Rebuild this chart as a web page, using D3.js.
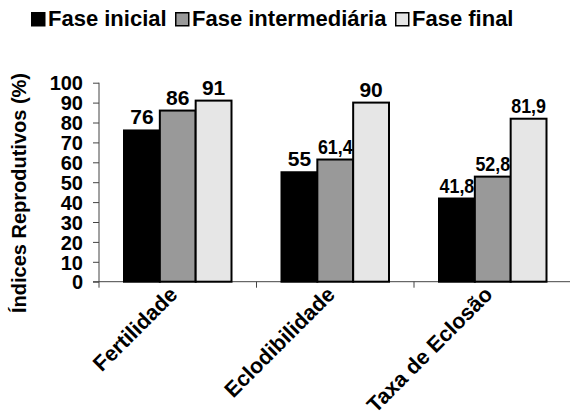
<!DOCTYPE html>
<html>
<head>
<meta charset="utf-8">
<script src="https://cdn.jsdelivr.net/npm/d3@7"></script>
<style>
body { margin: 0; background: #fff; }
text { font-family: Arial, 'Liberation Sans', sans-serif; font-weight: bold; fill: #000; }
</style>
</head>
<body>
<svg id="chart" width="570" height="415"></svg>
<script>
let categories = ['Fertilidade', 'Eclodibilidade', 'Taxa de Eclosão']
let series = ['Fase inicial', 'Fase intermediária', 'Fase final']
let inicial = [76, 55, 41.8]
let intermediaria = [86, 61.4, 52.8]
let final = [91, 90, 81.9]
let yTicks = [0, 10, 20, 30, 40, 50, 60, 70, 80, 90, 100]

let colors = ['#000000', '#999999', '#e6e6e6']
let values = [inicial, intermediaria, final]

let svg = d3.select('#chart')

let x = d3.scaleBand()
	.domain(categories)
	.range([99, 571.5])

let inner = d3.scaleBand()
	.domain(series)
	.range([25, x.bandwidth() - 25])

let y = d3.scaleLinear()
	.domain([0, 100])
	.range([281.7, 82.7])

let fmt = v => String(v).replace('.', ',')

// y axis
let yAxis = svg.append('g')
	.attr('transform', 'translate(99,0)')
	.call(d3.axisLeft(y).tickValues(yTicks).tickSize(6).tickPadding(10))
yAxis.select('.domain').attr('d', 'M0,' + y(100) + 'V' + (y(0) + 6)).attr('stroke', '#444')
yAxis.selectAll('.tick line').attr('stroke', '#444')
yAxis.selectAll('.tick text')
	.attr('font-size', 20)
	.attr('font-family', 'Arial, Liberation Sans, sans-serif')
	.attr('font-weight', 'bold')
	.attr('dy', '0.36em')

// x axis
let xAxis = svg.append('g')
	.attr('transform', 'translate(0,' + y(0) + ')')

xAxis.append('line')
	.attr('x1', 93).attr('x2', 570)
	.attr('stroke', '#444')

xAxis.selectAll('.cat-tick')
	.data(categories.slice(1))
	.enter()
	.append('line')
	.attr('x1', d => x(d)).attr('x2', d => x(d))
	.attr('y1', 0).attr('y2', 6)
	.attr('stroke', '#444')

xAxis.selectAll('.cat-label')
	.data(categories)
	.enter()
	.append('text')
	.attr('transform', d => 'translate(' + (x(d) + x.bandwidth() / 2 + 1) + ',14) rotate(-45)')
	.attr('text-anchor', 'end')
	.attr('font-size', 21.5)
	.text(d => d)

// bars
let groups = svg.selectAll('.grp')
	.data(categories)
	.enter()
	.append('g')
	.attr('transform', d => 'translate(' + x(d) + ',0)')

groups.each(function(c, ci) {
	let g = d3.select(this)
	series.forEach((s, si) => {
		let v = values[si][ci]
		let cx = inner(s) + inner.bandwidth() / 2
		g.append('rect')
			.attr('x', inner(s))
			.attr('y', y(v))
			.attr('width', inner.bandwidth())
			.attr('height', y(0) - y(v))
			.attr('fill', colors[si])
			.attr('stroke', '#000')
			.attr('stroke-width', 2)
		// decimal labels look condensed in the original
		let sx = Number.isInteger(v) ? 1 : 0.85
		g.append('text')
			.attr('transform', 'translate(' + cx + ',' + (y(v) - 6) + ') scale(' + sx + ',1)')
			.attr('text-anchor', 'middle')
			.attr('font-size', 21)
			.text(fmt(v))
	})
})

// y title
svg.append('text')
	.attr('transform', 'translate(26,193) rotate(-90)')
	.attr('text-anchor', 'middle')
	.attr('font-size', 20)
	.text('Índices Reprodutivos (%)')

// legend
let legendX = [31, 175, 395]
series.forEach((s, i) => {
	let item = svg.append('g').attr('transform', 'translate(' + legendX[i] + ',12)')
	item.append('rect')
		.attr('x', 0.75).attr('y', 0.75)
		.attr('width', 13).attr('height', 13)
		.attr('fill', colors[i])
		.attr('stroke', '#000')
		.attr('stroke-width', 1.5)
	item.append('text')
		.attr('x', 17)
		.attr('y', 14)
		.attr('font-size', 22)
		.text(s)
})
</script>
</body>
</html>
